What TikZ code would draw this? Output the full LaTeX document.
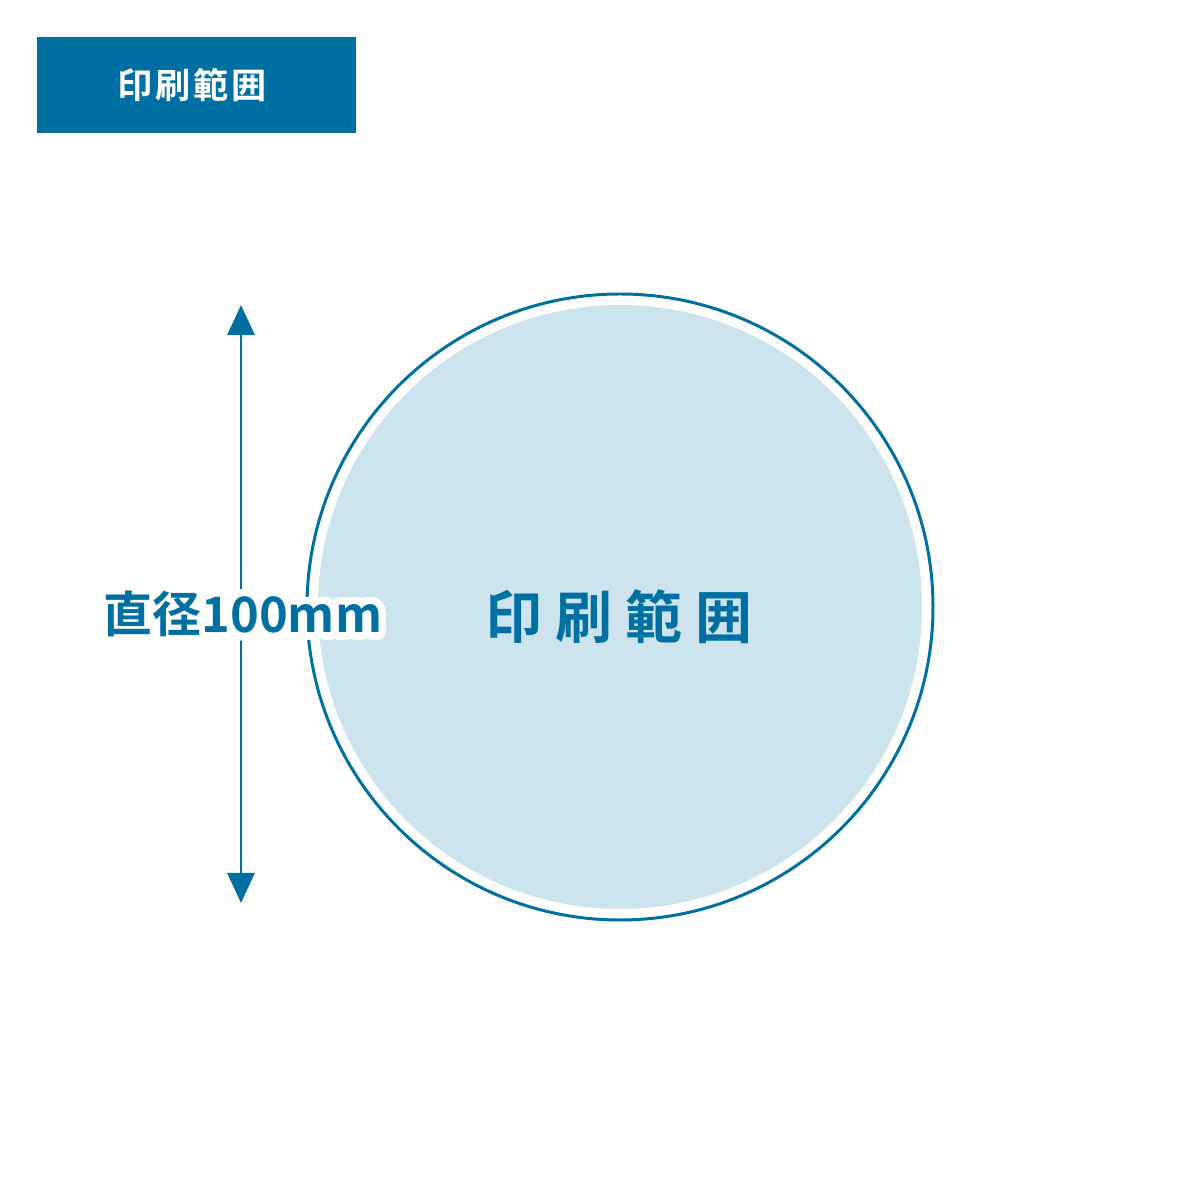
\documentclass[tikz,border=0pt]{standalone}
\usepackage{fontspec}
\usepackage{contour}
\usetikzlibrary{arrows.meta}
\newfontfamily\cjk{Noto Sans CJK JP}[BoldFont={Noto Sans CJK JP Bold}]
\newfontfamily\cjkwide{Noto Sans CJK JP}[BoldFont={Noto Sans CJK JP Bold},LetterSpace=23]
\newfontfamily\cjkhead{Noto Sans CJK JP}[BoldFont={Noto Sans CJK JP Bold},LetterSpace=8]
\definecolor{printblue}{RGB}{0,112,163}
\definecolor{printfill}{RGB}{205,227,237}
\contourlength{2.2pt}
\contournumber{32}
\tikzset{
	headbox/.style={fill=printblue, draw=none},
	rangering/.style={draw=printblue, line width=0.85pt},
	sizearrow/.style={draw=printblue, line width=0.85pt, {Triangle[width=0.27cm,length=0.3cm]}-{Triangle[width=0.27cm,length=0.3cm]}}
}
\begin{document}
\begin{tikzpicture}
		%%%%% START %%%%%
		\useasboundingbox (0, 0) rectangle (12, 12);
		
		\draw[headbox] (0.37, 11.63) rectangle (3.56, 10.67);
		\node[text=white, font=\cjkhead\bfseries\fontsize{10pt}{12pt}\selectfont] (head) at (1.92, 11.15) {印刷範囲};
		
		\coordinate (mid) at (6.20, 5.93);
		\draw[rangering] (mid) circle (3.13);
		\fill[printfill] (mid) circle (3.02);
		\node[text=printblue, font=\cjkwide\bfseries\fontsize{16.2pt}{18pt}\selectfont] (range) at (6.19, 5.83) {印刷範囲};
		
		\coordinate (top) at (2.41, 8.95);
		\coordinate (bottom) at (2.41, 2.97);
		\draw[sizearrow] (top) -- (bottom);
		\node[text=printblue, font=\cjk\bfseries\fontsize{13.9pt}{15pt}\selectfont] (size) at (2.43, 5.82) {\contour{white}{直径100mm}};
		
		%%%%% END %%%%%
	\end{tikzpicture}
\end{document}
